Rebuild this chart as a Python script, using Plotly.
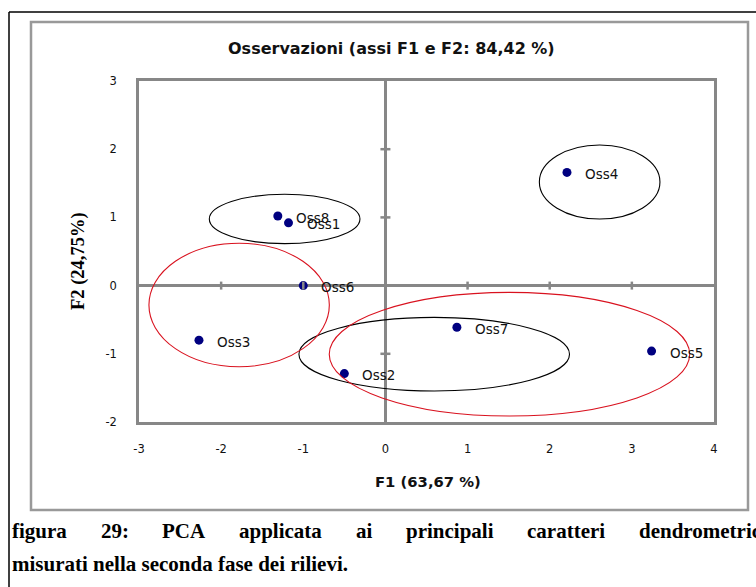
import plotly.graph_objects as go

# Observation scores on the first two principal components
obs_names = ["Oss1", "Oss2", "Oss3", "Oss4", "Oss5", "Oss6", "Oss7", "Oss8"]
f1_scores = [-1.18, -0.50, -2.27, 2.21, 3.24, -1.00, 0.87, -1.31]
f2_scores = [0.92, -1.29, -0.80, 1.66, -0.96, 0.00, -0.61, 1.02]

# Group ellipses (centre and semi-axes in score units)
ell_cx = [-1.227, 2.608, 0.594, -1.781, 1.510]
ell_cy = [0.977, 1.519, -1.006, -0.284, -1.006]
ell_rx = [0.917, 0.734, 1.647, 1.098, 2.194]
ell_ry = [0.362, 0.543, 0.540, 0.905, 0.906]
ell_group = ["a", "a", "a", "b", "b"]

x_ticks = [-3, -2, -1, 0, 1, 2, 3, 4]
x_tick_labels = ["-3", "-2", "-1", "0", "1", "2", "3", "4"]
y_ticks = [-2, -1, 0, 1, 2, 3]
y_tick_labels = ["-2", "-1", "0", "1", "2", "3"]

chart_title = "Osservazioni (assi F1 e F2: 84,42 %)"
x_title = "F1 (63,67 %)"
y_title = "F2 (24,75%)"
caption_line1 = "figura 29: PCA applicata ai principali caratteri dendrometrici"
caption_line2 = "misurati nella seconda fase dei rilievi."

W, H = 756, 587
ML, MR, MT, MB = 139, 42, 81, 165
GREY = "#878787"
NAVY = "#000080"
RED = "#d9121f"
ELL_COLORS = {"a": "#000000", "b": RED}


def px_x(px):
    return (px - ML) / (W - ML - MR)


def px_y(py):
    return (H - MB - py) / (H - MT - MB)


fig = go.Figure()

fig.add_trace(go.Scatter(
    x=f1_scores, y=f2_scores, mode="markers",
    marker=dict(color=NAVY, size=9, line=dict(width=0)),
    hovertext=obs_names, hoverinfo="text+x+y", showlegend=False,
))

shapes = []
for cx, cy, rx, ry, g in zip(ell_cx, ell_cy, ell_rx, ell_ry, ell_group):
    shapes.append(dict(type="circle", xref="x", yref="y",
                       x0=cx - rx, x1=cx + rx, y0=cy - ry, y1=cy + ry,
                       line=dict(color=ELL_COLORS[g], width=1.1), layer="above"))

# cross ticks on the zero axes
for t in x_ticks[1:-1]:
    if t == 0:
        continue
    shapes.append(dict(type="line", xref="x", yref="y", ysizemode="pixel", yanchor=0,
                       x0=t, x1=t, y0=-4, y1=4, line=dict(color=GREY, width=2.5)))
for t in y_ticks[1:-1]:
    if t == 0:
        continue
    shapes.append(dict(type="line", xref="x", yref="y", xsizemode="pixel", xanchor=0,
                       y0=t, y1=t, x0=-5, x1=5, line=dict(color=GREY, width=2.5)))

# chart area frame and page rules
shapes.append(dict(type="rect", xref="paper", yref="paper",
                   x0=px_x(31), x1=px_x(748), y0=px_y(510), y1=px_y(22),
                   line=dict(color="#999999", width=2.5), layer="below"))
shapes.append(dict(type="line", xref="paper", yref="paper",
                   x0=px_x(9), x1=px_x(760), y0=px_y(12), y1=px_y(12),
                   line=dict(color="#000000", width=1.5)))
shapes.append(dict(type="line", xref="paper", yref="paper",
                   x0=px_x(9), x1=px_x(9), y0=px_y(12), y1=px_y(590),
                   line=dict(color="#000000", width=1.5)))

annotations = []
for name, x, y in zip(obs_names, f1_scores, f2_scores):
    annotations.append(dict(x=x, y=y, xref="x", yref="y", text=name, showarrow=False,
                            xanchor="left", yanchor="middle", xshift=16, yshift=-1.5,
                            font=dict(family="DejaVu Sans", size=13.5, color="#111111")))

annotations.append(dict(x=px_x(391), y=px_y(48), xref="paper", yref="paper",
                        text="<b>" + chart_title + "</b>", showarrow=False,
                        xanchor="center", yanchor="middle",
                        font=dict(family="DejaVu Sans", size=16, color="#111111")))
annotations.append(dict(x=px_x(427.5), y=px_y(481.5), xref="paper", yref="paper",
                        text="<b>" + x_title + "</b>", showarrow=False,
                        xanchor="center", yanchor="middle",
                        font=dict(family="DejaVu Sans", size=14.8, color="#111111")))
annotations.append(dict(x=px_x(78), y=px_y(261), xref="paper", yref="paper",
                        text="<b>" + y_title + "</b>", showarrow=False, textangle=-90,
                        xanchor="center", yanchor="middle",
                        font=dict(family="Liberation Serif", size=18.5, color="#000000")))

# justified first caption line (runs past the right edge): one annotation per word
words1 = caption_line1.split(" ")
word_x = [10, 98.5, 160.2, 237.1, 353.6, 403.6, 524.8, 636.6]
for w, xw in zip(words1, word_x):
    annotations.append(dict(x=px_x(xw), y=px_y(531), xref="paper", yref="paper",
                            text="<b>" + w + "</b>", showarrow=False,
                            xanchor="left", yanchor="middle",
                            font=dict(family="Liberation Serif", size=21, color="#000000")))
annotations.append(dict(x=px_x(10), y=px_y(564), xref="paper", yref="paper",
                        text="<b>" + caption_line2 + "</b>", showarrow=False,
                        xanchor="left", yanchor="middle",
                        font=dict(family="Liberation Serif", size=21, color="#000000")))

axis_common = dict(showgrid=False, zeroline=True, zerolinecolor=GREY, zerolinewidth=2.5,
                   showline=True, mirror=True, linecolor=GREY, linewidth=2.5,
                   ticks="", tickfont=dict(family="DejaVu Sans", size=11.5, color="#111111"))

fig.update_layout(
    width=W, height=H,
    margin=dict(l=ML, r=MR, t=MT, b=MB),
    paper_bgcolor="white", plot_bgcolor="white",
    xaxis=dict(range=[-3, 4], tickvals=x_ticks, ticktext=x_tick_labels,
               ticklabelstandoff=14, **axis_common),
    yaxis=dict(range=[-2, 3], tickvals=y_ticks, ticktext=y_tick_labels,
               ticklabelstandoff=17, **axis_common),
    shapes=shapes, annotations=annotations,
    showlegend=False,
)

fig.write_html("out.html")
